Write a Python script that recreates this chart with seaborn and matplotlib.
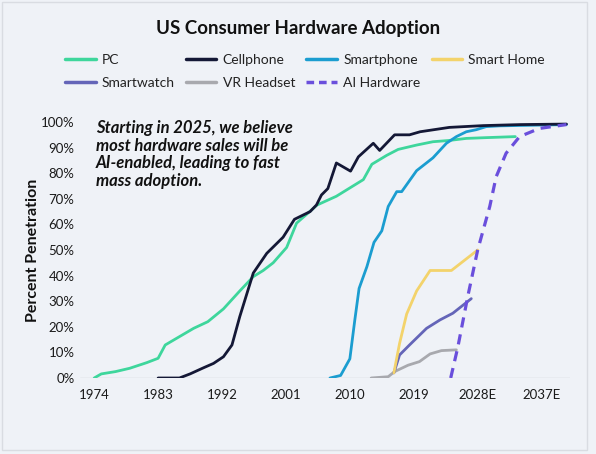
import numpy as np
import pandas as pd
import matplotlib
matplotlib.use("Agg")
import matplotlib.pyplot as plt
from matplotlib.lines import Line2D
from matplotlib.patches import Rectangle
import seaborn as sns

# Values (year, percent penetration)
pc_years = [1974, 1975, 1977, 1979, 1981.4, 1983, 1984, 1985.6, 1988, 1990, 1992.2, 1994.5,
            1996.4, 1997.8, 1999.2, 2001.1, 2002.5, 2005.4, 2008.1, 2011.9, 2013.1, 2015.2,
            2016.8, 2019.4, 2021.7, 2024, 2026.4, 2029.2, 2033.3]
pc_pct = [0, 1.6, 2.5, 3.8, 6, 7.7, 12.9, 15.5, 19.4, 22, 27, 34,
          39.6, 42, 45, 51, 60.5, 67.6, 71, 77.5, 83.5, 87,
          89.3, 91, 92.3, 92.8, 93.6, 93.9, 94.3]

cell_years = [1983, 1986, 1987.5, 1989.4, 1990.8, 1992.2, 1993.4, 1994.5, 1996.4, 1998.3,
              2000.6, 2002.2, 2004.4, 2005.3, 2006, 2006.9, 2008.1, 2010.1, 2011.2, 2013.3,
              2014.2, 2016.3, 2018.4, 2019.9, 2024, 2028.8, 2034, 2040.5]
cell_pct = [0, 0, 1.6, 4, 5.7, 8.3, 12.9, 24, 41, 48.7,
            55, 62, 65, 67.6, 71.5, 74, 84, 80.8, 86.4, 91.7,
            88.9, 95, 95, 96.2, 97.9, 98.6, 99, 99.2]

smart_years = [2007.2, 2008.7, 2010, 2010.7, 2011.3, 2012.4, 2013.4, 2014.5, 2015.4, 2016.6,
               2017.3, 2019.4, 2021.7, 2023.6, 2025, 2026.4, 2027.8, 2029.2, 2031.1, 2040.5]
smart_pct = [0, 1, 7.5, 22.7, 35, 43.5, 53, 57.5, 67, 72.8,
             72.8, 81, 86, 91.7, 94.3, 96.2, 97, 98.2, 98.5, 99]

home_years = [2016.2, 2017, 2018, 2019.4, 2021.3, 2024.3, 2028]
home_pct = [2, 13.5, 25, 34, 42, 42, 50]

watch_years = [2016.2, 2017, 2018.4, 2020.8, 2022.7, 2024.5, 2027.1]
watch_pct = [2, 9, 12.9, 19.4, 22.7, 25.3, 31]

vr_years = [2013, 2015.4, 2016.3, 2018.2, 2019.8, 2021.3, 2022.9, 2025]
vr_pct = [0, 0.5, 2.5, 5, 6.4, 9.4, 10.7, 11]

ai_years = [2024.2, 2025.2, 2026.6, 2028, 2028.7, 2029.7, 2030.6, 2032, 2033.9, 2036.7, 2040.5]
ai_pct = [0, 12, 31.8, 50, 57, 67, 78.6, 87.8, 94.3, 97.5, 99]

tick_years = [1974, 1983, 1992, 2001, 2010, 2019, 2028, 2037]
tick_labels = ["1974", "1983", "1992", "2001", "2010", "2019", "2028E", "2037E"]
y_ticks = list(range(0, 101, 10))

series = [
    ("PC", pc_years, pc_pct, "#3ed69c", "-"),
    ("Cellphone", cell_years, cell_pct, "#141836", "-"),
    ("Smartphone", smart_years, smart_pct, "#1b9dd0", "-"),
    ("Smart Home", home_years, home_pct, "#f3d36b", "-"),
    ("Smartwatch", watch_years, watch_pct, "#6465b8", "-"),
    ("VR Headset", vr_years, vr_pct, "#a8a9ae", "-"),
    ("AI Hardware", ai_years, ai_pct, "#6a4fdc", "--"),
]

bg = "#eff2f7"
sns.set_theme(style="white")
plt.rcParams["font.family"] = ["Lato", "DejaVu Sans"]

fig = plt.figure(figsize=(5.96, 4.54), dpi=100, facecolor=bg)
ax = fig.add_axes([80 / 596, 1 - 378 / 454, 490 / 596, (378 - 116.9) / 454])
ax.set_facecolor(bg)

# draw order so later curves sit on top like the original
draw_order = ["VR Headset", "Smartwatch", "Smart Home", "PC", "Smartphone", "Cellphone", "AI Hardware"]
lookup = {s[0]: s for s in series}
for name in draw_order:
    label, xs, ys, color, ls = lookup[name]
    df = pd.DataFrame({"year": xs, "pct": ys})
    lw = 2.3 if ls == "--" else 2.0
    sns.lineplot(data=df, x="year", y="pct", ax=ax, color=color, linewidth=lw,
                 estimator=None, sort=False, legend=False, solid_capstyle="round")
    if ls == "--":
        ax.lines[-1].set_dashes([3.2, 2.2])

ax.set_xlim(1972, 2041)
ax.set_ylim(0, 102)
ax.set_xticks(tick_years)
ax.set_xticklabels(tick_labels)
ax.set_yticks(y_ticks)
ax.set_yticklabels([f"{v}%" for v in y_ticks])
ax.tick_params(axis="both", length=0, labelsize=9.5, colors="#1a1a1a")
ax.tick_params(axis="x", pad=8)
ax.tick_params(axis="y", pad=4)
for sp in ax.spines.values():
    sp.set_visible(False)
ax.axhline(0, color="#cdd0d6", linewidth=1, zorder=0)
ax.set_xlabel("")
ax.set_ylabel("Percent Penetration", fontsize=11.5, fontweight="bold", color="#111111")
ax.yaxis.set_label_coords(-(80 - 40) / 490, (378 - 250) / (378 - 116.9))

# annotation
fig.text(96 / 596, 1 - 120 / 454,
         "Starting in 2025, we believe\nmost hardware sales will be\nAI-enabled, leading to fast\nmass adoption.",
         fontsize=12, fontweight="bold", fontstyle="italic", color="#111111",
         ha="left", va="top", linespacing=1.12)

# title
fig.text(0.5, 1 - 28.5 / 454, "US Consumer Hardware Adoption", fontsize=13.5,
         fontweight="bold", color="#111111", ha="center", va="center")

# legend in row-major order (matplotlib fills columns)
handles = {}
for label, xs, ys, color, ls in series:
    h = Line2D([], [], color=color, linewidth=2.5, linestyle=ls)
    if ls == "--":
        h.set_dashes([2.2, 1.4])
    handles[label] = h
order = ["PC", "Smartwatch", "Cellphone", "VR Headset", "Smartphone", "AI Hardware", "Smart Home"]
fig.legend([handles[k] for k in order], order, loc="upper left",
           bbox_to_anchor=(65 / 596, 1 - 53.5 / 454), ncol=4, frameon=False,
           fontsize=10, handlelength=2.2, handletextpad=0.45, columnspacing=0.8,
           labelspacing=0.8, borderpad=0, borderaxespad=0, labelcolor="#222222")

# thin frame around the panel
fig.patches.append(Rectangle((2 / 596, 4 / 454), 585 / 596, 448 / 454, transform=fig.transFigure,
                             fill=False, edgecolor="#d9dce2", linewidth=1))

fig.savefig("out.png", dpi=100, facecolor=bg)
